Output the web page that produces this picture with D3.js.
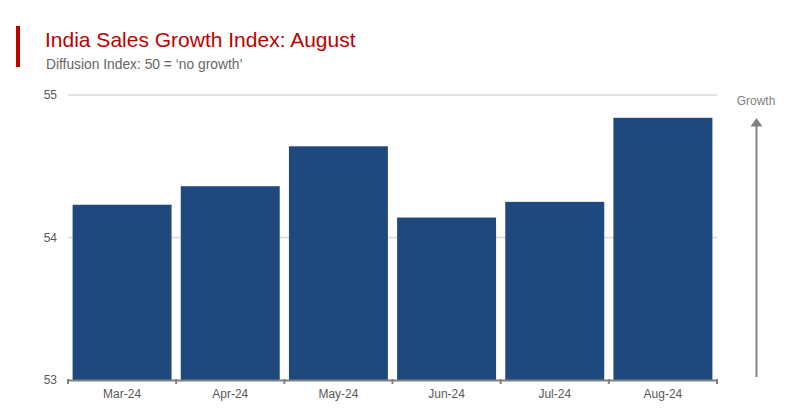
<!DOCTYPE html>
<html><head><meta charset="utf-8">
<script src="https://cdn.jsdelivr.net/npm/d3@7"></script>
<style>body{margin:0;background:#fff}svg{display:block;font-family:"Liberation Sans",Arial,sans-serif}</style>
</head><body>
<script>
const categories = ["Mar-24","Apr-24","May-24","Jun-24","Jul-24","Aug-24"];
const values = [54.23, 54.36, 54.64, 54.14, 54.25, 54.84];
const yTicks = [53, 54, 55];
const title = "India Sales Growth Index: August";
const subtitle = "Diffusion Index: 50 = \u2018no growth\u2019";
const arrowLabel = "Growth";

const W = 800, H = 420;
const svg = d3.select("body").append("svg").attr("width", W).attr("height", H);

const x = d3.scaleBand().domain(categories).range([68, 717]).paddingInner(0.085).paddingOuter(0.0425);
const y = d3.scaleLinear().domain([53, 55]).range([380, 95]);

// title block
svg.append("rect").attr("x",16).attr("y",26).attr("width",4).attr("height",41).attr("fill","#c00000");
svg.append("text").attr("x",45).attr("y",47).attr("font-size",21).attr("fill","#c00000").text(title);
svg.append("text").attr("x",46).attr("y",69).attr("font-size",13.8).attr("fill","#666666").text(subtitle);

// gridlines
const yAxis = d3.axisLeft(y).tickValues(yTicks).tickSize(0).tickPadding(11).tickFormat(d3.format("d"));
const gy = svg.append("g").attr("transform","translate(68,0)").call(yAxis);
gy.select(".domain").remove();
gy.selectAll("text").attr("font-size",12).attr("fill","#595959").attr("font-family","Liberation Sans, Arial, sans-serif");
svg.append("g").selectAll("line").data(yTicks.filter(d=>d!==53)).join("line")
  .attr("x1",68).attr("x2",717).attr("y1",d=>y(d)).attr("y2",d=>y(d))
  .attr("stroke","#d9d9d9").attr("stroke-width",1.5);

// bars
svg.append("g").selectAll("rect").data(values).join("rect")
  .attr("x",(d,i)=>x(categories[i])).attr("width",x.bandwidth())
  .attr("y",d=>y(d)).attr("height",d=>y(53)-y(d)).attr("fill","#1f497d");

// x axis
const gx = svg.append("g").attr("transform","translate(0,380)").call(d3.axisBottom(x).tickSize(0).tickPadding(9));
gx.select(".domain").attr("stroke","#808080").attr("stroke-width",2);
gx.selectAll("text").attr("font-size",12).attr("fill","#595959").attr("font-family","Liberation Sans, Arial, sans-serif");
const bounds = categories.map(c=>x(c)-x.step()*x.paddingInner()/2);
bounds[0] = 68; bounds.push(717);
svg.append("g").selectAll("line").data(bounds).join("line")
  .attr("x1",d=>d).attr("x2",d=>d).attr("y1",379).attr("y2",384)
  .attr("stroke","#808080").attr("stroke-width",2);

// growth arrow
svg.append("text").attr("x",756).attr("y",105).attr("text-anchor","middle").attr("font-size",12).attr("fill","#7f7f7f").text(arrowLabel);
svg.append("line").attr("x1",756.5).attr("x2",756.5).attr("y1",125).attr("y2",377).attr("stroke","#808080").attr("stroke-width",2);
svg.append("path").attr("d","M750.5,126.5 L756.5,118 L762.5,126.5 Z").attr("fill","#808080");
</script>
</body></html>
